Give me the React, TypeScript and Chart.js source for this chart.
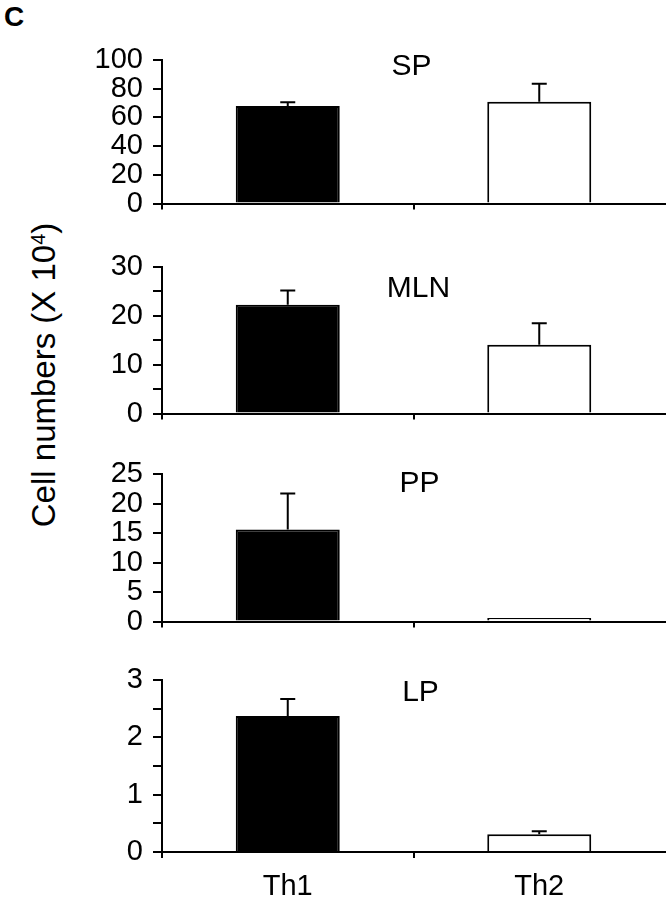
import React, { useEffect, useRef } from "react";
import { Chart, registerables } from "chart.js";

Chart.register(...registerables);

// ---- data ----
const categories = ["Th1", "Th2"];
const panelNames = ["SP", "MLN", "PP", "LP"];
const spMeans = [68, 71];
const spErrors = [2.5, 12.5];
const mlnMeans = [22.3, 14.1];
const mlnErrors = [2.9, 4.4];
const ppMeans = [15.6, 0.6];
const ppErrors = [6.1, 0];
const lpMeans = [2.37, 0.31];
const lpErrors = [0.3, 0.05];
const yMaxes = [100, 30, 25, 3];
const tickSteps = [20, 5, 5, 0.5];
const labelSteps = [20, 10, 5, 1];
const yAxisTitle = "Cell numbers (X 10";
const yAxisTitleSup = "4";
const panelLetter = "C";

const allMeans = [spMeans, mlnMeans, ppMeans, lpMeans];
const allErrors = [spErrors, mlnErrors, ppErrors, lpErrors];

// ---- layout / style ----
const FONT = "'Liberation Sans', Arial, Helvetica, sans-serif";
const axisTops = [60, 267, 474, 680];
const axisZeros = [219, 429, 637, 852];
const titleDy = [7, 22, 10, 13];
const titleDx = [-2, 5, 6, 7];
const PAD_TOP = 30;
const xHeights = [12, 12, 12, 48];

function Panel({ index }: { index: number }) {
  const ref = useRef<HTMLCanvasElement | null>(null);
  const height = axisZeros[index] - axisTops[index] + PAD_TOP + xHeights[index];
  useEffect(() => {
    if (!ref.current) return;
    const means = allMeans[index];
    const errors = allErrors[index];
    const isLast = index === panelNames.length - 1;
    const overlay = {
      id: "overlay" + index,
      afterDatasetsDraw(chart: any) {
        const ctx = chart.ctx;
        const ys = chart.scales.y;
        const meta = chart.getDatasetMeta(0);
        ctx.save();
        ctx.strokeStyle = "#000";
        ctx.lineWidth = 2;
        meta.data.forEach((bar: any, i: number) => {
          const err = errors[i];
          if (!err) return;
          const base = ys.getPixelForValue(means[i]);
          const top = ys.getPixelForValue(means[i] + err);
          ctx.beginPath();
          ctx.moveTo(bar.x, base);
          ctx.lineTo(bar.x, top);
          ctx.moveTo(bar.x - 7.5, top);
          ctx.lineTo(bar.x + 7.5, top);
          ctx.stroke();
        });
        const ca = chart.chartArea;
        ctx.fillStyle = "#000";
        ctx.font = `30px ${FONT}`;
        ctx.textAlign = "center";
        ctx.textBaseline = "middle";
        ctx.fillText(
          panelNames[index],
          (ca.left + ca.right) / 2 + titleDx[index],
          ca.top + titleDy[index]
        );
        ctx.restore();
      },
    };
    const chart = new Chart(ref.current, {
      type: "bar",
      data: {
        labels: categories,
        datasets: [
          {
            data: means,
            backgroundColor: ["#000000", "#ffffff"],
            borderColor: "#000000",
            borderWidth: 2,
            barPercentage: 1,
            categoryPercentage: 0.4135,
          },
        ],
      },
      options: {
        responsive: false,
        animation: false,
        devicePixelRatio: 1,
        layout: { padding: { top: PAD_TOP, right: 6, left: 0, bottom: 0 } },
        plugins: { legend: { display: false }, tooltip: { enabled: false }, title: { display: false } },
        scales: {
          x: {
            offset: true,
            border: { display: true, color: "#000", width: 2 },
            grid: {
              offset: true,
              drawOnChartArea: false,
              drawTicks: true,
              tickLength: 6,
              lineWidth: 2,
              color: (c: any) => (c.index === 0 || c.index === 1 ? "#000" : "rgba(0,0,0,0)"),
            },
            ticks: {
              display: isLast,
              color: "#000",
              padding: 12,
              autoSkip: false,
              maxRotation: 0,
              font: { family: FONT, size: 29 },
            },
            afterFit: (s: any) => {
              s.height = xHeights[index];
            },
          },
          y: {
            min: 0,
            max: yMaxes[index],
            border: { display: true, color: "#000", width: 2 },
            grid: {
              drawOnChartArea: false,
              drawTicks: true,
              tickLength: 9,
              lineWidth: 2,
              color: "#000",
            },
            ticks: {
              stepSize: tickSteps[index],
              autoSkip: false,
              color: "#000",
              padding: 10,
              font: { family: FONT, size: 29 },
              callback: (v: any) => {
                const n = Number(v);
                const r = n / labelSteps[index];
                return Math.abs(r - Math.round(r)) < 1e-6 ? String(n) : "";
              },
            },
            afterFit: (s: any) => {
              s.width = 162;
            },
          },
        },
      },
      plugins: [overlay],
    });
    return () => chart.destroy();
  }, [index]);
  return (
    <canvas
      ref={ref}
      width={671}
      height={height}
      style={{
        position: "absolute",
        left: 0,
        top: axisTops[index] - PAD_TOP,
        width: 671,
        height,
      }}
    />
  );
}

export default function App() {
  return (
    <div
      style={{
        position: "absolute",
        left: 0,
        top: 0,
        width: 671,
        height: 900,
        background: "#fff",
        overflow: "hidden",
        fontFamily: FONT,
      }}
    >
      <div
        style={{
          position: "absolute",
          left: 4,
          top: 3,
          fontSize: 28,
          fontWeight: "bold",
          lineHeight: "28px",
          color: "#000",
        }}
      >
        {panelLetter}
      </div>
      <div
        style={{
          position: "absolute",
          left: 41,
          top: 375,
          transform: "translate(-50%, -50%) rotate(-90deg)",
          whiteSpace: "nowrap",
          fontSize: 33,
          lineHeight: "36px",
          color: "#000",
        }}
      >
        {yAxisTitle}
        <sup style={{ fontSize: "0.6em", verticalAlign: "0.55em" }}>{yAxisTitleSup}</sup>)
      </div>
      {panelNames.map((_, i) => (
        <Panel key={i} index={i} />
      ))}
    </div>
  );
}
